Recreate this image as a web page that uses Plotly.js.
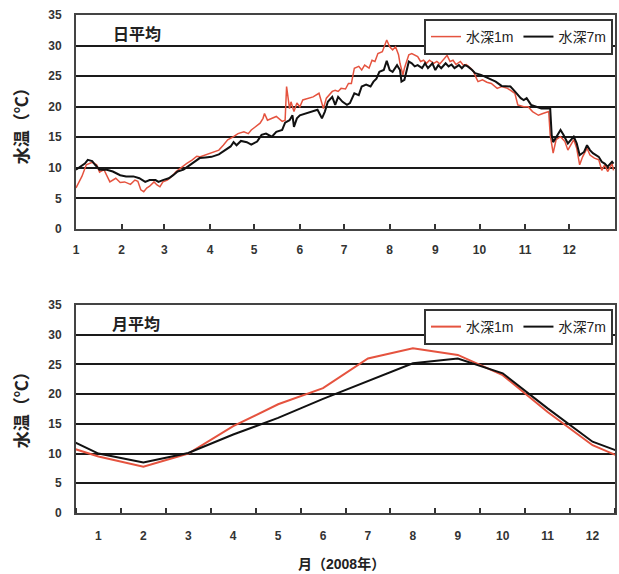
<!DOCTYPE html>
<html>
<head>
<meta charset="utf-8">
<script src="https://cdn.plot.ly/plotly-3.0.1.min.js"></script>
<style>html,body{margin:0;padding:0;background:#fff;}#chart{width:619px;height:574px;}</style>
</head>
<body>
<div id="chart"></div>
<script>
// ---- Daily mean (day of year 2008) ----
const dayRed = [1,5,8,12,15,17,20,24,28,31,34,38,41,43,45,47,49,51,54,56,58,60,63,66,69,73,76,80,83,85,89,
  93,98,101,104,108,111,115,118,120,123,126,128,129,131,134,137,141,143,144,146,147,149,151,153,155,159,162,166,168,169,171,175,177,179,181,184,186,188,
  190,193,195,197,200,202,204,206,209,211,212,214,216,218,220,221,223,224,227,229,231,233,235,237,239,241,244,246,248,250,253,255,257,259,262,264,266,269,271,273,
  274,277,280,283,287,290,294,299,301,305,308,311,315,318,322,323,325,327,330,333,335,339,341,343,345,348,350,353,356,358,360,362,365,366];
const tempRed = [6.7,8.6,10.5,10.9,10.5,9.3,9.7,7.7,8.3,7.6,7.7,7.3,8.0,7.8,6.4,6.1,6.7,7.0,7.7,7.2,6.9,7.7,8.0,8.6,9.4,10.2,10.7,11.3,11.9,11.8,12.1,
  12.4,12.9,13.7,14.6,15.1,15.6,15.9,15.6,16.2,16.7,17.3,18.1,18.9,17.8,18.1,18.4,17.6,17.8,23.3,19.7,20.8,19.2,20.6,20.0,21.1,21.4,21.6,22.2,20.6,19.7,21.4,22.5,22.7,22.5,23.0,22.9,23.8,23.8,
  26.3,26.6,26.0,26.8,26.3,27.6,27.4,28.7,29.0,30.1,30.9,29.8,29.3,29.8,28.5,27.1,25.2,26.3,28.5,28.7,28.5,28.2,27.4,27.6,27.1,27.6,27.1,27.4,27.0,27.6,28.4,27.4,27.6,26.9,27.4,26.8,26.9,26.3,25.7,24.6,
  24.1,24.4,24.0,23.8,23.0,23.3,23.0,22.2,20.3,20.0,20.0,19.2,18.6,18.9,19.2,15.4,12.4,14.6,15.1,14.3,12.9,14.6,13.2,10.5,11.8,13.2,12.1,11.6,11.3,9.6,10.5,9.4,10.7,9.6];

const dayBlack = [1,4,7,9,12,14,17,22,26,31,35,40,44,48,51,55,57,60,64,67,70,74,77,81,85,89,
  93,98,102,106,108,110,113,117,120,124,127,130,134,137,141,143,146,148,149,151,153,156,161,165,168,170,172,175,177,179,182,185,187,
  190,193,195,198,201,203,205,207,210,212,214,216,219,221,222,224,227,229,231,233,236,238,240,243,245,247,249,252,254,256,258,261,263,265,267,270,272,
  276,279,283,286,290,296,299,303,305,307,310,314,317,323,324,325,327,330,332,335,339,341,343,346,348,350,352,356,358,360,362,365,366];
const tempBlack = [9.7,10.2,10.7,11.3,11.1,10.5,9.7,9.7,9.4,8.8,8.6,8.6,8.3,7.7,8.0,8.0,7.7,8.0,8.3,8.8,9.4,9.7,10.2,11.0,11.6,11.7,
  11.8,12.2,12.9,13.5,14.2,13.7,14.4,14.2,13.8,14.3,15.4,15.6,15.1,15.9,16.2,17.4,17.8,18.6,16.7,18.1,18.6,18.8,19.2,19.5,18.1,19.2,20.8,21.6,20.3,21.6,20.8,20.3,20.6,
  22.2,21.9,23.3,23.6,23.3,24.1,24.6,25.7,26.0,27.5,26.0,25.7,26.8,26.0,24.1,24.4,27.4,27.1,26.6,26.8,26.3,27.1,26.3,27.1,26.0,26.8,26.3,27.1,26.6,26.9,26.3,26.8,26.3,26.8,26.6,26.0,25.5,
  25.2,24.9,24.5,24.1,23.4,23.3,22.5,21.4,21.1,21.4,20.3,20.0,19.7,19.7,15.4,14.2,15.1,16.2,15.4,14.0,15.1,14.0,12.1,12.6,13.7,12.9,12.4,11.8,11.0,10.7,10.2,11.0,10.7];

const monthStartDays = [1,32,61,92,122,153,183,214,245,275,306,336];
const monthLabels = ['1','2','3','4','5','6','7','8','9','10','11','12'];

// ---- Monthly mean (0 = Dec 2007, 13 = Jan 2009, outside the visible range) ----
const months = [0,1,2,3,4,5,6,7,8,9,10,11,12,13];
const monthRed = [11.9,9.5,7.8,10.0,14.6,18.3,21.0,26.0,27.7,26.6,23.2,17.0,11.4,8.2];
const monthBlack = [13.6,10.0,8.5,10.1,13.2,16.0,19.2,22.2,25.2,26.0,23.5,17.6,12.0,9.2];

const seriesNames = ['水深1m','水深7m'];

const RED = '#e5533f';
const BLK = '#111111';
const FONT = 'Liberation Sans, Arial, Noto Sans CJK JP, sans-serif';
const TXT = '#333333';

const traces = [
  {x: dayRed, y: tempRed, type:'scatter', mode:'lines', name: seriesNames[0], line:{color:RED, width:1.5}, xaxis:'x', yaxis:'y', legend:'legend'},
  {x: dayBlack, y: tempBlack, type:'scatter', mode:'lines', name: seriesNames[1], line:{color:BLK, width:2}, xaxis:'x', yaxis:'y', legend:'legend'},
  {x: months, y: monthRed, type:'scatter', mode:'lines', name: seriesNames[0], line:{color:RED, width:2}, xaxis:'x2', yaxis:'y2', legend:'legend2'},
  {x: months, y: monthBlack, type:'scatter', mode:'lines', name: seriesNames[1], line:{color:BLK, width:2}, xaxis:'x2', yaxis:'y2', legend:'legend2'}
];

const tickFont = {family: FONT, size: 12, color: TXT, weight: 'bold'};
const yCommon = {
  range:[0,35], tickmode:'linear', tick0:0, dtick:5, showgrid:true, gridcolor:'#1a1a1a', gridwidth:2,
  showline:true, mirror:true, linecolor:'#444', linewidth:2, ticks:'', zeroline:false,
  tickfont: tickFont, ticklabelstandoff: 10, fixedrange:true
};
const legCommon = {
  orientation:'h', xanchor:'right', yanchor:'top', x:0.9963,
  bordercolor:'#333', borderwidth:2, bgcolor:'#fff',
  font:{family: FONT, size:14, color:'#222'}, itemwidth:30, tracegroupgap:0
};
const ann = (x, y, text, size, angle) => ({
  xref:'paper', yref:'paper', x:x, y:y, xanchor:'center', yanchor:'middle',
  text:text, textangle:angle || 0, showarrow:false, font:{family:FONT, size:size, color:'#222'}
});

const layout = {
  width:619, height:574,
  margin:{l:76, r:4, t:15, b:61},
  paper_bgcolor:'#fff', plot_bgcolor:'#fff',
  showlegend:true,
  xaxis:{
    domain:[0,1], anchor:'y', range:[1,367], tickmode:'array', tickvals: monthStartDays, ticktext: monthLabels,
    ticks:'inside', ticklen:5, tickwidth:2, tickcolor:'#333', showline:true, mirror:true, linecolor:'#444', linewidth:2,
    showgrid:false, zeroline:false, tickfont: tickFont, ticklabelstandoff: 9
  },
  yaxis: Object.assign({domain:[0.5703,1], anchor:'x'}, yCommon),
  xaxis2:{
    domain:[0,1], anchor:'y2', range:[0.5,12.5], tickmode:'array', tickvals:[1,2,3,4,5,6,7,8,9,10,11,12], ticktext: monthLabels,
    ticks:'', showline:true, mirror:true, linecolor:'#444', linewidth:2, showgrid:false, zeroline:false,
    tickfont: tickFont, ticklabelstandoff: 11,
    minor:{tick0:0.5, dtick:1, ticks:'inside', ticklen:5, tickwidth:2, tickcolor:'#333', showgrid:false}
  },
  yaxis2: Object.assign({domain:[0,0.4177], anchor:'x2'}, yCommon),
  legend: Object.assign({y:0.992}, legCommon),
  legend2: Object.assign({y:0.4096}, legCommon),
  annotations:[
    ann(-0.100, 0.785, '<b>水温（℃）</b>', 17, -90),
    ann(-0.100, 0.2148, '<b>水温（℃）</b>', 17, -90),
    ann(0.1132, 0.9618, '<b>日平均</b>', 16, 0),
    ann(0.1113, 0.3795, '<b>月平均</b>', 16, 0),
    ann(0.4935, -0.1024, '<b>月（2008年）</b>', 14, 0)
  ]
};

Plotly.newPlot('chart', traces, layout, {staticPlot:true, displayModeBar:false});
</script>
</body>
</html>
